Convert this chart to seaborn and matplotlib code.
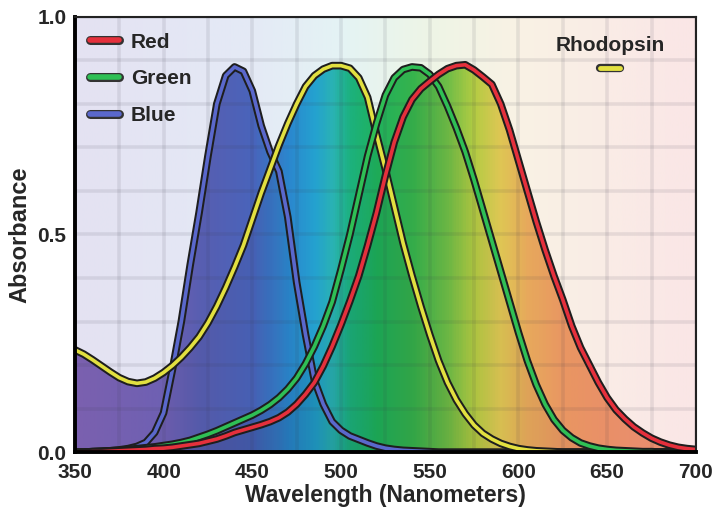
import numpy as np
import pandas as pd
import matplotlib
matplotlib.use("Agg")
import matplotlib.pyplot as plt
import matplotlib.patheffects as pe
from matplotlib.colors import LinearSegmentedColormap
from matplotlib.lines import Line2D
import seaborn as sns

# absorbance every 5 nm (350 .. 700)
wavelength = list(range(350, 705, 5))

red = [0.0, 0.0, 0.001, 0.001, 0.002, 0.003, 0.004, 0.005, 0.006, 0.008,
       0.009, 0.011, 0.014, 0.017, 0.02, 0.025, 0.03, 0.037, 0.045, 0.051,
       0.057, 0.063, 0.07, 0.079, 0.092, 0.11, 0.133, 0.16, 0.198, 0.243,
       0.293, 0.347, 0.405, 0.475, 0.55, 0.635, 0.712, 0.77, 0.81, 0.835,
       0.852, 0.868, 0.881, 0.888, 0.89, 0.878, 0.862, 0.845, 0.80, 0.74,
       0.67, 0.60, 0.53, 0.465, 0.405, 0.35, 0.29, 0.24, 0.20, 0.16,
       0.125, 0.097, 0.076, 0.058, 0.044, 0.032, 0.023, 0.016, 0.011, 0.008,
       0.006]

green = [0.0, 0.0, 0.001, 0.002, 0.003, 0.004, 0.006, 0.008, 0.01, 0.012,
         0.015, 0.018, 0.022, 0.027, 0.034, 0.041, 0.049, 0.058, 0.067, 0.076,
         0.085, 0.096, 0.109, 0.125, 0.145, 0.17, 0.203, 0.243, 0.29, 0.345,
         0.42, 0.50, 0.59, 0.68, 0.755, 0.82, 0.86, 0.879, 0.885, 0.883,
         0.868, 0.84, 0.795, 0.745, 0.69, 0.625, 0.555, 0.485, 0.415, 0.345,
         0.275, 0.21, 0.155, 0.11, 0.075, 0.05, 0.033, 0.021, 0.014, 0.009,
         0.006, 0.004, 0.003, 0.002, 0.001, 0.001, 0.0, 0.0, 0.0, 0.0,
         0.0]

blue = [0.0, 0.0, 0.001, 0.002, 0.003, 0.005, 0.008, 0.013, 0.022, 0.045,
        0.09, 0.19, 0.30, 0.43, 0.55, 0.68, 0.80, 0.865, 0.885, 0.875,
        0.83, 0.75, 0.69, 0.645, 0.54, 0.39, 0.27, 0.165, 0.11, 0.07,
        0.05, 0.037, 0.029, 0.021, 0.014, 0.009, 0.006, 0.004, 0.003, 0.002,
        0.001, 0.0, 0.0, 0.0, 0.0, 0.0, 0.0, 0.0, 0.0, 0.0,
        0.0, 0.0, 0.0, 0.0, 0.0, 0.0, 0.0, 0.0, 0.0, 0.0,
        0.0, 0.0, 0.0, 0.0, 0.0, 0.0, 0.0, 0.0, 0.0, 0.0,
        0.0]

rhodopsin = [0.235, 0.225, 0.212, 0.198, 0.184, 0.171, 0.162, 0.158, 0.161, 0.17,
             0.183, 0.199, 0.218, 0.24, 0.265, 0.297, 0.335, 0.378, 0.425, 0.475,
             0.535, 0.595, 0.65, 0.705, 0.755, 0.80, 0.84, 0.865, 0.88, 0.888,
             0.888, 0.882, 0.86, 0.815, 0.73, 0.65, 0.565, 0.48, 0.405, 0.335,
             0.27, 0.21, 0.16, 0.12, 0.088, 0.062, 0.043, 0.03, 0.02, 0.013,
             0.008, 0.005, 0.003, 0.002, 0.001, 0.0, 0.0, 0.0, 0.0, 0.0,
             0.0, 0.0, 0.0, 0.0, 0.0, 0.0, 0.0, 0.0, 0.0, 0.0,
             0.0]

x_ticks = [350, 400, 450, 500, 550, 600, 650, 700]
y_ticks = [0.0, 0.5, 1.0]
y_tick_labels = ["0.0", "0.5", "1.0"]

# colours
line_colors = {"Red": "#e5303c", "Green": "#2fbf55", "Blue": "#5a68cc", "Rhodopsin": "#e2e040"}
spec_stops = [350, 400, 420, 450, 470, 485, 495, 505, 520, 540, 560, 575, 590, 605, 625, 650, 700]
spec_rgb = [(128, 100, 182), (115, 100, 186), (92, 98, 184), (76, 104, 194), (45, 140, 214),
            (38, 168, 216), (44, 186, 186), (30, 184, 130), (34, 184, 96), (56, 186, 80),
            (116, 196, 74), (186, 212, 70), (232, 206, 88), (240, 176, 96), (242, 156, 102),
            (242, 150, 108), (244, 146, 122)]
pale_stops = [350, 450, 500, 550, 600, 650, 700]
pale_rgb = [(228, 226, 242), (228, 234, 246), (228, 243, 244), (238, 245, 230),
            (249, 242, 228), (250, 236, 230), (250, 230, 230)]


def ramp_cmap(name, stops, cols):
    pos = [(s - 350) / 350 for s in stops]
    return LinearSegmentedColormap.from_list(name, list(zip(pos, np.array(cols) / 255)))


sns.set_style("white")
plt.rcParams['font.family'] = ['Liberation Sans', 'DejaVu Sans']
plt.rcParams['font.weight'] = 'bold'

fig = plt.figure(figsize=(7.13, 5.12), dpi=100)
ax = fig.add_axes([0.105, 0.117, 0.871, 0.85])

ramp = np.linspace(350, 700, 700)[None, :]
ax.imshow(ramp, extent=[350, 700, 0, 1], aspect='auto', origin='lower',
          cmap=ramp_cmap("pale", pale_stops, pale_rgb), vmin=350, vmax=700, zorder=0)

df = pd.DataFrame({"wavelength": wavelength, "Red": red, "Green": green,
                   "Blue": blue, "Rhodopsin": rhodopsin})
top = df[["Red", "Green", "Blue", "Rhodopsin"]].max(axis=1)

# coloured area under the curves
region = ax.fill_between(df["wavelength"], 0, top, facecolor='none', edgecolor='none')
im = ax.imshow(ramp, extent=[350, 700, 0, 1], aspect='auto', origin='lower',
               cmap=ramp_cmap("spec", spec_stops, spec_rgb), vmin=350, vmax=700, zorder=1)
im.set_clip_path(region.get_paths()[0], transform=ax.transData)
for name in ["Red", "Green", "Blue", "Rhodopsin"]:
    ax.fill_between(df["wavelength"], 0, df[name], color='black', alpha=0.035, lw=0, zorder=1.2)

long = df.melt(id_vars="wavelength", var_name="pigment", value_name="absorbance")
sns.lineplot(data=long, x="wavelength", y="absorbance", hue="pigment",
             hue_order=["Blue", "Rhodopsin", "Green", "Red"], palette=line_colors,
             legend=False, lw=2.6, ax=ax, zorder=3)
for ln in ax.lines:
    ln.set_path_effects([pe.Stroke(linewidth=5.5, foreground='#1e1e1e'), pe.Normal()])
    ln.set_solid_capstyle('round')
    ln.set_solid_joinstyle('round')

ax.set_xlim(350, 700)
ax.set_ylim(0, 1)
ax.set_xticks(x_ticks)
ax.set_yticks(y_ticks)
ax.set_yticklabels(y_tick_labels)
ax.set_xticks(np.arange(350, 701, 25), minor=True)
ax.set_yticks(np.arange(0, 1.01, 0.1), minor=True)
ax.set_axisbelow('line')
ax.grid(which='both', color='#3a3a4a', alpha=0.1, lw=2.6)
ax.tick_params(which='major', direction='in', length=8, width=2.2, labelsize=15)
ax.tick_params(axis='x', which='major', pad=8)
ax.tick_params(axis='y', which='major', pad=6)
ax.tick_params(which='minor', length=0)
for s in ["left", "bottom"]:
    ax.spines[s].set_linewidth(2.8)
    ax.spines[s].set_color('black')
for s in ["top", "right"]:
    ax.spines[s].set_linewidth(1.5)
    ax.spines[s].set_color('#222222')
for s in ax.spines.values():
    s.set_zorder(5)

ax.set_xlabel("Wavelength (Nanometers)", fontsize=16.5, fontweight='bold', labelpad=1)
ax.set_ylabel("Absorbance", fontsize=17, fontweight='bold', labelpad=4)

def key(color, lw=4.0):
    return Line2D([], [], color=color, lw=lw, solid_capstyle='round',
                  path_effects=[pe.Stroke(linewidth=lw + 2.5, foreground='#333333'), pe.Normal()])

leg = ax.legend(handles=[key(line_colors[n]) for n in ["Red", "Green", "Blue"]],
                labels=["Red", "Green", "Blue"], loc='upper left', frameon=False,
                fontsize=15, handlelength=1.35, handletextpad=0.6, labelspacing=0.85,
                borderaxespad=0.35)
ax.add_artist(leg)
leg2 = ax.legend(handles=[key(line_colors["Rhodopsin"], lw=3.5)], labels=[""],
                 title="Rhodopsin", loc='upper right', bbox_to_anchor=(0.97, 0.985),
                 frameon=False, handlelength=1.4, handletextpad=0.0,
                 title_fontproperties={'size': 15, 'weight': 'bold'})

fig.savefig("out.png", dpi=100)
